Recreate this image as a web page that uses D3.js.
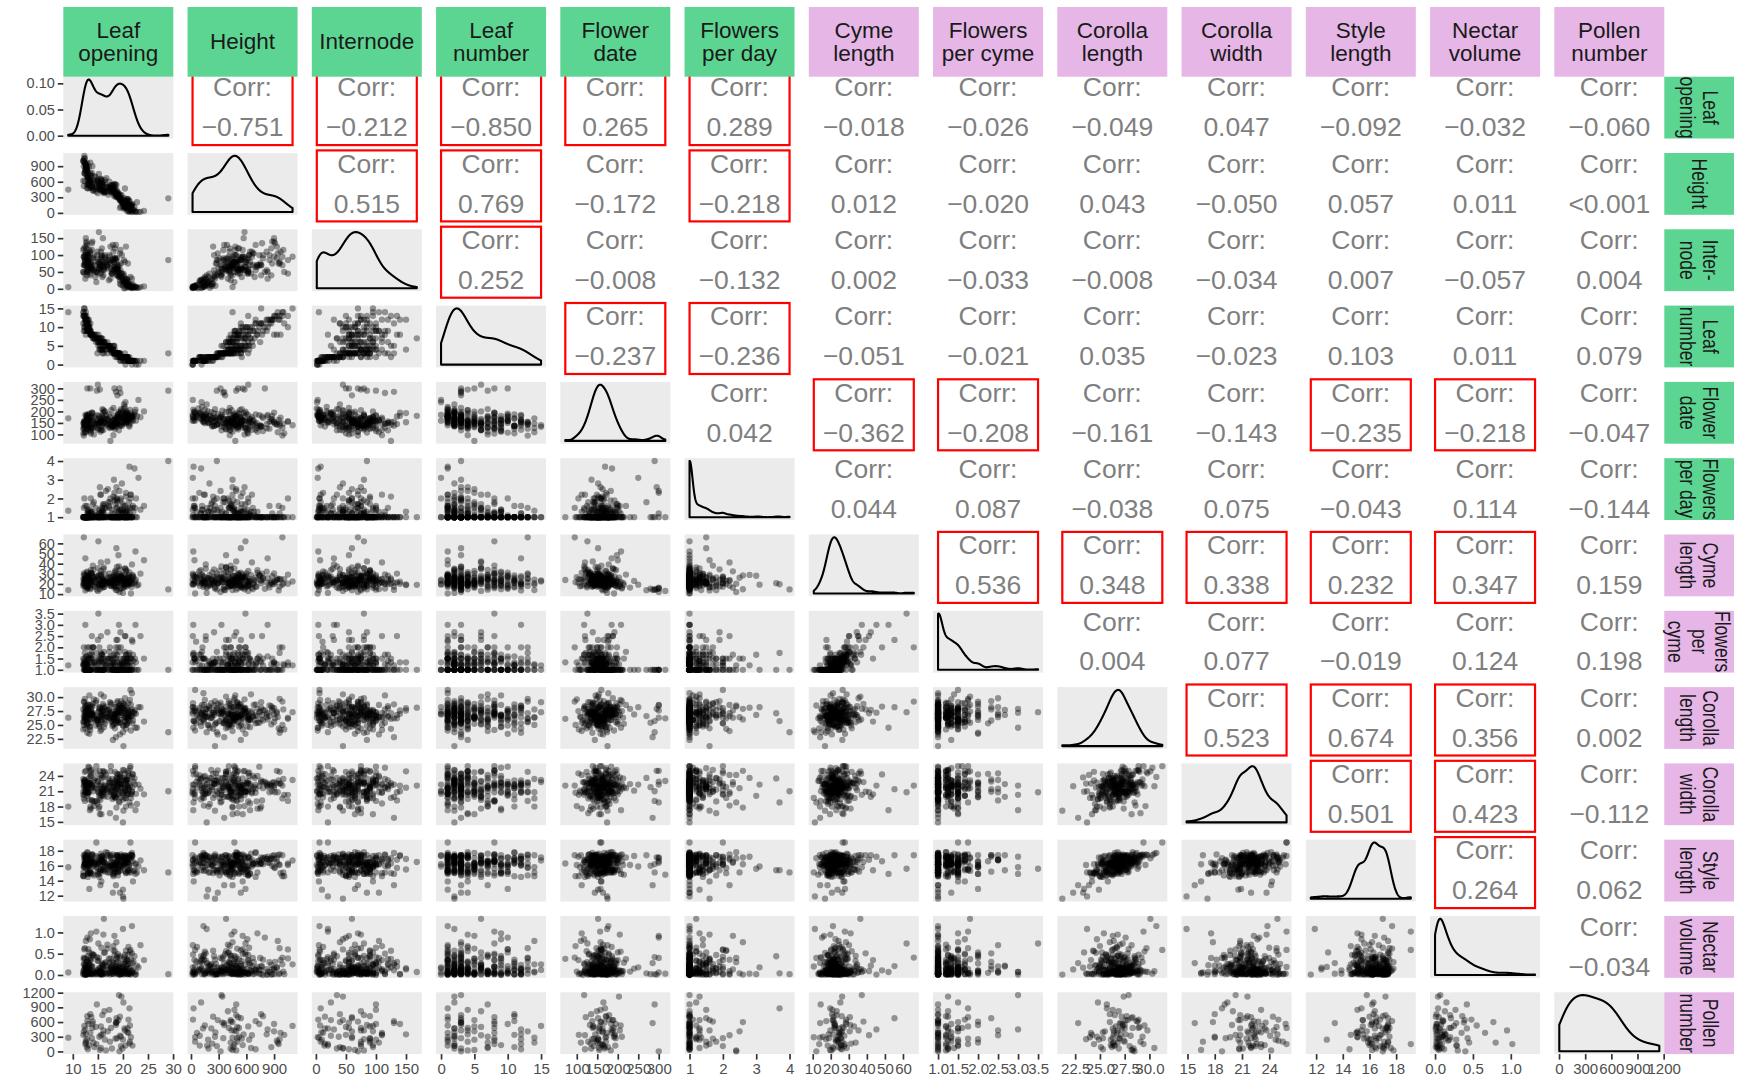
<!DOCTYPE html>
<html>
<head>
<meta charset="utf-8">
<script src="https://cdn.jsdelivr.net/npm/d3@7"></script>
<style>
  body { margin: 0; background: #ffffff; }
  svg { display: block; }
  text { font-family: "Liberation Sans", Arial, Helvetica, sans-serif; }
</style>
</head>
<body>
<svg id="chart" width="1743" height="1083"></svg>
<script>
// ---- Trait measurements, one entry per plant (null = not measured) ----
const leafOpening = [
  12.3, 12.1, 13.2, 12.6, 12.9, 9.1, 13.5, 12.2, 12.8, 13.0,
  12.5, 13.8, 12.1, 13.1, 12.7, 14.0, 12.4, 13.3, 12.9, 12.2,
  13.6, 12.8, 13.0, 14.2, 12.5, 13.4, 12.3, 13.7, 14.5, 12.9,
  13.2, 15.8, 12.7, 13.9, 16.2, 12.4, 13.5, 17.1, 12.8, 14.8,
  13.1, 18.2, 12.6, 15.5, 13.8, 14.6, 16.4, 15.1, 15.4, 14.9,
  15.7, 17.2, 14.4, 16.1, 15.3, 17.5, 15.0, 14.7, 17.8, 15.9,
  16.3, 18.4, 15.2, 17.0, 16.9, 18.1, 15.6, 17.4, 16.0, 18.6,
  17.3, 15.5, 18.8, 17.7, 16.7, 19.2, 17.9, 18.3, 17.6, 14.9,
  18.0, 17.4, 18.5, 19.0, 16.0, 18.2, 19.4, 18.7, 17.5, 18.9,
  19.6, 18.1, 15.7, 18.6, 20.1, 18.4, 19.3, 16.4, 18.8, 20.4,
  18.3, 19.8, 15.9, 20.6, 19.1, 18.5, 21.0, 19.5, 18.7, 20.2,
  19.0, 21.3, 18.9, 20.8, 19.7, 20.0, 21.5, 19.4, 20.9, 21.8,
  29.05, 20.3, 19.6, 19.9, 21.2, 20.7, 19.4, 21.5, 20.5, 20.0,
  21.7, 20.4, 20.9, 22.3, 21.0, 21.4, 20.6, 22.8, 21.9, 20.8,
  22.1, 21.3, 20.5, 23.5, 21.6, 22.6, 20.2, 21.1, 24.2, 21.8,
  12.6, 13.1, 12.2, 13.7, 12.9, 12.4, 13.4, 12.7, 14.1, 12.3,
  13.0, 12.5, 13.9, 12.8, 13.3, 12.1, 14.3, 13.6, 12.6, 13.2,
  12.9, 14.6, 13.5, 12.4, 13.8, 15.0, 12.7, 14.2, 13.1, 15.3,
  12.4, 13.0, 12.2, 13.6, 12.8, 13.3, 12.5, 14.0, 12.9, 13.5,
  17.3, 15.2, 16.0, 17.6, 15.6, 16.9, 18.0, 16.3, 17.8, 15.9,
  15.1, 18.3, 15.6, 17.9, 16.2, 15.4, 16.4, 18.9, 15.8, 16.9,
  19.1, 15.3, 18.5, 19.4, 16.1, 15.7, 19.7, 18.8, 16.6, 19.0,
  18.4, 20.0, 18.7, 19.3, 20.3, 18.1, 19.6, 20.6, 19.2, 18.9,
  20.1, 21.0, 19.8, 20.7, 21.4, 20.4, 19.5, 21.8, 20.9, 20.2,
  21.2, 22.0, 20.5, 21.6, 22.5, 20.8, 21.1, 23.1, 21.9, 22.4
];
const plantHeight = [
  1100, 620, 880, 940, 540, 450, 760, 990, 480, 700,
  850, 560, 1010, 660, 910, 430, 780, 600, 960, 520,
  720, 870, 470, 580, 830, 640, 1050, 510, 690, 800,
  560, 420, 740, 900, 380, 610, 970, 350, 820, 490,
  680, 330, 930, 450, 770, 500, 410, 590, 450, 640,
  510, 430, 710, 430, 520, 400, 620, 470, 470, 550,
  400, 380, 580, 490, 490, 420, 650, 530, 440, 360,
  600, 460, 350, 530, 670, 330, 440, 560, 410, 620,
  390, 500, 310, 370, 570, 450, 290, 540, 480, 340,
  280, 420, 630, 360, 260, 510, 320, 400, 300, 470,
  430, 250, 490, 240, 380, 550, 270, 350, 450, 290,
  330, 230, 410, 260, 340, 170, 150, 95, 210, 160,
  280, 130, 125, 190, 230, 105, 240, 45, 160, 185,
  135, 120, 265, 110, 140, 150, 90, 205, 175, 40,
  60, 28, 115, 20, 45, 18, 80, 22, 38, 17,
  820, 560, 990, 480, 700, 1050, 610, 880, 430, 760,
  640, 930, 520, 850, 590, 1000, 460, 720, 900, 540,
  780, 410, 670, 960, 500, 380, 870, 620, 740, 450,
  760, 540, 900, 620, 830, 480, 950, 590, 700, 510,
  470, 750, 540, 440, 660, 500, 540, 590, 430, 580,
  550, 460, 620, 510, 400, 580, 630, 320, 470, 400,
  290, 520, 360, 250, 440, 560, 230, 380, 490, 310,
  420, 220, 340, 280, 200, 540, 260, 190, 330, 370,
  110, 160, 200, 180, 45, 140, 250, 135, 220, 170,
  150, 30, 95, 140, 25, 120, 65, 20, 55, 35
];
const internode = [
  95, 50, 75, 105, 65, 5, 40, 70, 100, 55,
  85, 115, 50, 95, 135, 70, 100, 55, 80, 120,
  65, 40, 80, 55, 30, 70, 45, 60, 35, 50,
  95, 120, 70, 140, 60, 85, 110, 85, 55, 100,
  105, 60, 90, 70, 135, 50, 95, 80, 65, 110,
  55, 25, 70, 40, 60, 30, 45, 20, 50, 35,
  75, 90, 168, 60, 85, 110, 45, 95, 70, 130,
  80, 60, 90, 45, 70, 35, 85, 55, 75, 50,
  130, 75, 90, 65, 150, 80, 105, 60, 125, 70,
  75, 55, 100, 85, 45, 120, 70, 90, 60, 80,
  65, 100, 80, 125, 55, 90, 75, 115, 40, 85,
  40, 15, 55, 30, 45, 20, 35, 25, 10, 30,
  85, 20, 12, 35, 8, 25, 15, 6, 28, 10,
  5, 18, 9, 4, 22, 7, 12, 3, 14, 6,
  4, 8, 2, 5, 3, 6, 1.5, 4, 7, 2,
  110, 60, 95, 75, 130, 85, 45, 140, 90, 70,
  80, 125, 55, 100, 65, 115, 95, 70, 150, 85,
  90, 50, 105, 75, 60, 80, 120, 55, 100, 65,
  70, 85, 95, 60, 50, 115, 75, 90, 65, 80,
  100, 75, 55, 60, 110, 70, 85, 65, 45, 95,
  60, 80, 90, 45, 55, 75, 100, 40, 70, 65,
  45, 85, 60, 35, 75, 95, 30, 70, 80, 50,
  65, 28, 55, 40, 22, 90, 38, 20, 50, 60,
  25, 12, 45, 18, 8, 30, 55, 6, 15, 40,
  10, 5, 20, 8, 4, 28, 12, 3, 11, 6
];
const leafNumber = [
  15, 13, 12, 14, 10, 14, 11, 13, 9, 12,
  12, 8, 11, 10, 13, 8, 9, 10, 12, 9,
  8, 11, 9, 7, 12, 9, 10, 8, 7, 10,
  9, 6, 11, 8, 6, 10, 8, 5, 9, 7,
  9, 5, 8, 7, 8, 6, 6, 8, 5, 7,
  7, 5, 8, 6, 7, 4, 6, 8, 4, 7,
  6, 4, 7, 5, 6, 4, 7, 5, 6, 3,
  5, 6, 3, 4, 5, 3, 4, 5, 4, 3,
  5, 4, 3, 3, 4, 3, 3, 3, 5, 3,
  2, 3, 4, 3, 2, 3, 3, 4, 2, 3,
  3, 2, 3, 2, 3, 2, 2, 3, 3, 2,
  2, 2, 3, 2, 2, 2, 1, 2, 2, 1,
  3, 2, 1, 2, 1, 2, 1, 1, 2, 1,
  1, 1, 2, 1, 1, 1, 2, 1, 1, 1,
  1, 1, 0, 1, 1, 0, 1, 1, 1, 0,
  12, 10, 14, 8, 11, 13, 9, 12, 7, 15,
  10, 13, 8, 11, 10, 14, 7, 9, 12, 11,
  11, 7, 9, 13, 8, 6, 12, 8, 10, 6,
  11, 9, 13, 8, 10, 9, 12, 7, 11, 8,
  4, 6, 5, 4, 6, 5, 4, 5, 3, 6,
  5, 3, 5, 4, 3, 4, 5, 3, 4, 3,
  3, 4, 3, 2, 4, 4, 2, 3, 4, 3,
  3, 2, 3, 2, 2, 3, 2, 2, 3, 3,
  2, 1, 2, 2, 1, 2, 2, 1, 2, 2,
  1, 1, 2, 1, 1, 2, 1, 0, 1, 1
];
const flowerDate = [
  140, 125, 165, 110, 150, 170, 135, 95, 180, 120,
  155, 130, 105, 175, 145, 160, 115, 190, 138, 150,
  128, 168, 142, 100, 185, 133, 158, 122, 147, 300,
  162, 118, 137, 195, 152, 108, 173, 145, 127, 290,
  160, 135, 148, 112, 178, 141, 200, 126, 155, 166,
  132, 187, 150, 119, 172, 144, 316, 157, 136, 210,
  149, 124, 181, 163, 139, 97, 154, 176, 146, 285,
  131, 167, 152, 205, 143, 118, 161, 300, 139, 184,
  156, 128, 171, 148, 193, 136, 164, 152, 72, 177,
  141, 215, 159, 132, 175, 150, 300, 168, 145, 188,
  162, 137, 179, 153, 198, 142, 170, 280, 158, 146,
  185, 134, 166, 157, 203, 174, 149, 192, 161, 178,
  290, 155, 183, 168, 140, 196, 172, 160, 188, 152,
  176, 220, 163, 186, 154, 207, 171, 180, 165, 194,
  182, 169, 240, 175, 191, 160, 213, 178, 200, 185,
  145, 160, 128, 172, 138, 155, 118, 181, 150, 133,
  166, 142, 190, 125, 158, 147, 176, 112, 153, 139,
  171, 130, 162, 148, 195, 121, 157, 143, 184, 152,
  136, 169, 154, 104, 178, 146, 163, 129, 187, 300,
  158, 140, 174, 151, 120, 167, 144, 199, 135, 161,
  148, 182, 156, 131, 170, 295, 153, 177, 141, 164,
  189, 150, 166, 137, 205, 159, 172, 146, 183, 160,
  154, 197, 168, 143, 180, 162, 210, 149, 175, 270,
  165, 186, 152, 201, 171, 158, 192, 177, 163, 230,
  179, 160, 194, 173, 208, 168, 185, 250, 176, 198
];
const flowersPerDay = [
  1, 1, 1.2, 1, 1, 1.35, 1, 1.5, 1, 1,
  1, 1.3, 1, 1, 1, 1.7, 1, 1, 1.2, 1,
  1, 1, 1.4, 1, 1, 1, 2, 1, 1.1, 1,
  1, 1.5, 1, 1, 1.2, 1, 1, 1.8, 1, 1,
  1.3, 1, 1, 2.2, 1, 1, 1.5, 1, 1, 1.1,
  1, 1.6, 1, 1, 1.2, 2.0, 1, 1, 1.4, 1,
  1, 1.2, 1, 2.5, 1, 1, 1.3, 1, 1.7, 1,
  1.1, 1, 2.0, 1, 1.5, 1, 1, 2.3, 1, 1.2,
  1, 1.8, 1, 1, 1.3, 3.0, 1, 1.5, 1, 1,
  2.0, 1, 1.2, 1, 1.6, 1, 2.4, 1, 1, 1.3,
  1, 1.4, 1, 2.1, 1, 1.7, 1, 1, 2.6, 1,
  1.2, 1, 1.9, 1, 1.3, 1, 2.2, 1, 1.5, 1,
  4.0, 1, 1.4, 1, 1.8, 1.2, 1, 2.0, 1, 1.3,
  1, 1.6, 1, 3.6, 1, 1.2, 2.3, 1, 1.5, 1,
  1.3, 3.7, 1, 1.4, 1, 2.0, 1, 1.1, 1.6, 1,
  1, 1, 1, 1.2, 1, 1, 1.4, 1, 1, 1,
  1.1, 1, 1, 1.6, 1, 1, 1, 1.3, 1, 1,
  1, 1.5, 1, 1, 1.2, 1, 1, 1.8, 1, 1.4,
  1, 1.3, 1, 2.0, 1, 1.1, 1.6, 1, 1, 1.2,
  1.5, 1, 1.3, 1, 2.2, 1, 1, 1.7, 1, 1.4,
  1, 1.9, 1, 1.2, 1, 2.6, 1, 1.5, 1.1, 1,
  1.3, 1, 2.0, 1, 1.6, 1, 1.2, 1, 2.4, 1,
  1, 1.7, 1, 1.4, 1, 2.1, 1, 1.3, 1, 1.8,
  1.2, 1, 2.8, 1, 1.5, 1, 1.9, 1, 1.3, 1,
  1, 1.6, 1, 2.2, 1, 1.4, 1, 3.1, 1, 1.5
];
const cymeLength = [
  22.4, 18.1, 27.6, 24.3, 31.2, 14.0, 20.7, 66.0, 23.5, 26.2,
  19.3, 29.4, 24.8, 16.2, 21.6, 38.1, 25.3, 22.9, 17.4, 28.3,
  33.5, 21.2, 18.6, 26.7, 45.3, 23.1, 20.2, 30.6, 24.1, 15.2,
  25.7, 19.8, 28.5, 22.3, 36.4, 17.7, 24.5, 21.9, 32.1, 14.4,
  20.5, 27.3, 23.8, 18.2, 30.2, 26.5, 22.1, 62.0, 19.6, 25.1,
  29.1, 21.4, 17.2, 34.6, 24.2, 20.9, 13.1, 27.8, 22.6, 16.5,
  23.3, 31.6, 19.1, 26.1, 42.2, 21.7, 28.8, 18.4, 24.6, 14.1,
  30.4, 22.2, 25.5, 17.9, 20.3, 37.2, 23.6, 16.3, 27.1, 19.5,
  21.1, 26.4, 33.2, 24.4, 18.8, 28.1, 20.6, 55.3, 23.9, 25.2,
  27.4, 19.2, 22.7, 30.8, 16.8, 24.7, 12.0, 29.6, 21.3, 35.4,
  18.3, 26.9, 23.2, 20.1, 48.4, 25.6, 22.5, 15.4, 28.4, 19.9,
  24.0, 31.3, 17.6, 21.8, 26.3, 11.2, 23.4, 27.5, 20.4, 39.3,
  14.6, 22.8, 28.2, 25.4, 19.4, 33.7, 21.5, 26.6, 35.0, 23.7,
  17.1, 29.3, 24.9, 20.8, 27.2, 22.0, 32.5, 18.5, 25.8, 21.0,
  26.8, 19.7, 23.0, 30.1, 10.6, 24.2, 21.1, 28.6, 43.4, 20.0,
  21.4, 26.8, 19.2, 24.1, 17.5, 29.3, 22.6, 20.1, 33.8, 23.4,
  18.9, 25.5, 22.0, 16.6, 27.9, 20.7, 24.4, 31.0, 19.6, 23.0,
  26.1, 21.8, 14.9, 24.9, 19.0, 35.7, 22.3, 18.2, 28.6, 20.4,
  23.7, 17.8, 30.5, 21.1, 25.8, 19.9, 13.6, 27.3, 22.8, 15.8,
  20.9, 28.1, 24.0, 18.5, 41.2, 22.1, 26.4, 17.0, 21.5, 25.0,
  19.4, 23.9, 32.9, 20.6, 16.9, 14.8, 22.7, 26.6, 18.7, 24.6,
  21.0, 29.7, 17.3, 23.5, 19.8, 27.0, 22.2, 36.8, 20.3, 25.7,
  18.0, 24.3, 21.7, 30.0, 19.5, 23.2, 15.6, 26.0, 22.4, 13.9,
  25.3, 20.5, 28.9, 17.6, 22.9, 19.1, 34.4, 21.2, 24.7, 16.4,
  20.8, 27.6, 18.3, 23.6, 52.0, 21.6, 25.9, 19.3, 29.0, 22.5
];
const flowersPerCyme = [
  1.2, 1.5, 1.5, 1, 1.25, 1.2, 1, 2.0, 1.33, 1.25,
  1, 1.67, 1.2, 1, 1, 2.0, 1.5, 1, 2.0, 1.4,
  1.5, 1.25, 1, 1.33, 3.0, 1, 1.2, 1.75, 1, 1,
  1.5, 1.67, 1.6, 1.33, 1.8, 1, 1, 1.5, 1, 1,
  1, 1.33, 1.25, 1, 2.5, 1.2, 1, 3.5, 1, 1.5,
  1.67, 1, 1.33, 1.33, 1.33, 1.2, 1, 1.75, 1, 1,
  1.25, 1, 1, 1.5, 2.67, 1, 1.4, 2.0, 1.5, 1,
  1.8, 1, 1.33, 1, 1.25, 3.0, 1, 1, 1.6, 1,
  1.2, 1.5, 1.5, 1, 1, 1.67, 1, 2.33, 1.33, 1,
  1.5, 1.5, 1.25, 2.0, 1, 1.2, 1, 1.4, 1, 2.5,
  1.25, 1.33, 1, 1.5, 2.0, 1.75, 1, 1, 1.5, 1.2,
  1, 1.2, 2.33, 1.33, 1.25, 1, 1.5, 1.2, 1, 2.33,
  1, 1.5, 2.0, 1, 1, 1.67, 1.25, 1.5, 2.5, 1,
  1.5, 1.8, 1.33, 1, 1.5, 1, 1.67, 1, 1.2, 1.5,
  1.4, 1.75, 1, 2.5, 1, 1.33, 1, 1.67, 1.5, 1,
  1, 1.5, 1, 1.25, 1, 1.33, 1.67, 1, 2.0, 1,
  1, 1, 1.5, 1, 2.0, 1.25, 1, 1.5, 1.33, 1,
  1.2, 1, 1, 1.75, 1, 2.33, 1, 1.25, 1, 1.5,
  1.33, 1, 1.25, 1, 1.6, 1, 1, 2.0, 1.2, 1,
  1, 1.4, 1, 1.5, 2.5, 1, 1.33, 1, 1.25, 1.67,
  1.25, 1, 1.75, 1, 1, 1, 1.5, 1, 1, 1.2,
  1, 2.0, 1, 1.33, 1, 1.5, 1, 1.67, 1.2, 1,
  1, 1.25, 1, 1.8, 1.33, 1, 1, 1.4, 1, 1,
  1.5, 1, 1.2, 1, 1.33, 1, 2.67, 1, 1.25, 1,
  1, 1.67, 1, 1, 3.0, 1.2, 1, 1, 2.25, 1.5
];
const corollaLength = [
  27.3, 25.6, 28.1, 26.4, 24.9, 26.3, 26.0, 29.2, 26.7, 25.3,
  28.5, 26.9, 24.2, 27.5, 26.2, 28.8, 25.8, 27.1, 23.6, 26.6,
  27.9, 25.1, 26.8, 29.6, 27.2, 24.6, 26.3, 28.3, 25.9, 27.6,
  26.1, 28.0, 25.4, 27.0, 30.1, 26.5, 24.1, 27.7, 26.9, 25.7,
  28.6, 26.3, 27.4, 23.9, 26.8, 29.0, 25.2, 27.3, 28.2, 26.0,
  25.5, 27.8, 26.6, 28.4, 24.7, 27.1, 26.2, 29.4, 25.8, 27.5,
  26.9, 24.4, 28.1, 26.4, 27.7, 25.0, 30.5, 26.7, 27.2, 22.8,
  27.4, 26.0, 25.3, 28.7, 26.5, 27.9, 24.8, 26.3, 28.9, 25.9,
  26.2, 29.1, 27.0, 25.6, 27.6, 26.8, 23.3, 28.2, 26.1, 27.3,
  28.0, 25.2, 26.7, 27.5, 21.2, 26.4, 28.5, 25.7, 27.1, 29.8,
  25.8, 27.2, 26.5, 24.3, 28.3, 26.9, 27.7, 25.4, 26.0, 28.8,
  27.0, 26.3, 29.3, 25.1, 27.4, 23.7, 26.6, 28.1, 26.2, 27.8,
  23.7, 27.5, 25.9, 28.4, 26.8, 25.5, 27.2, 31.3, 26.4, 24.9,
  26.7, 28.6, 25.3, 27.1, 26.0, 29.5, 27.6, 24.5, 26.5, 28.0,
  27.3, 25.7, 26.9, 28.2, 24.0, 27.0, 26.3, 28.9, 25.6, 27.4,
  26.4, 27.9, 25.0, 27.2, 28.7, 26.1, 24.7, 27.6, 26.8, 29.1,
  25.9, 27.1, 28.3, 26.6, 23.4, 27.8, 26.2, 25.4, 28.0, 26.9,
  27.7, 24.9, 26.5, 29.7, 27.0, 25.8, 28.4, 26.3, 27.3, 25.1,
  28.1, 26.7, 25.5, 27.5, 26.0, 30.3, 24.4, 27.2, 26.8, 28.6,
  26.3, 27.4, 28.8, 25.6, 27.1, 26.5, 22.3, 28.0, 26.9, 27.7,
  25.2, 28.2, 26.6, 27.3, 24.6, 27.9, 26.1, 29.0, 25.9, 27.0,
  27.6, 26.4, 25.3, 28.5, 26.8, 24.2, 27.2, 26.0, 28.3, 25.7,
  26.9, 28.9, 27.1, 25.4, 27.8, 26.2, 29.3, 25.0, 27.4, 26.6,
  24.8, 27.0, 28.1, 26.5, 27.5, 25.6, 26.8, 30.7, 26.3, 27.9,
  27.2, 25.8, 26.4, 28.6, 24.5, 27.1, 26.7, 28.2, 25.3, 27.6
];
const corollaWidth = [
  23.2, 20.9, 22.7, 20.8, 20.1, 18.0, 18.0, 22.1, 22.2, 20.7,
  20.8, 21.6, 20.3, 20.6, 20.8, 22.8, 22.8, 22.4, 22.5, 21.9,
  24.0, 22.0, 20.9, 18.1, 22.1, 17.3, 20.3, 22.0, 23.6, 22.9,
  23.5, 21.4, 22.0, 22.1, 24.9, 21.1, 22.5, 23.5, 22.6, 19.1,
  21.8, 20.3, 25.0, 24.2, 19.2, 24.8, 22.0, 20.8, 16.5, 18.6,
  20.1, 20.8, 19.0, 21.2, 18.0, 24.9, 23.0, 25.9, 22.7, 21.5,
  20.0, 24.8, 22.1, 21.6, 19.9, 20.7, 22.0, 22.6, 20.9, 15.8,
  22.7, 19.3, 22.0, 21.0, 21.4, 20.3, 19.5, 22.3, 25.9, 21.4,
  19.9, 16.7, 19.7, 22.4, 24.9, 20.1, 23.7, 21.4, 22.1, 22.4,
  22.5, 21.8, 24.0, 19.9, 17.2, 23.1, 18.8, 22.3, 22.8, 24.5,
  20.2, 23.1, 20.8, 19.7, 24.3, 21.5, 24.5, 21.8, 17.8, 25.1,
  21.0, 22.6, 23.3, 20.3, 21.6, 14.9, 20.5, 24.1, 21.9, 20.9,
  21.0, 20.8, 19.8, 20.7, 21.3, 23.3, 24.4, 25.9, 23.2, 20.6,
  20.4, 21.6, 23.1, 23.5, 21.5, 22.0, 22.8, 18.5, 21.8, 20.7,
  22.9, 18.8, 21.1, 21.5, 19.7, 20.5, 23.5, 25.0, 20.4, 20.9,
  22.3, 22.2, 19.6, 25.2, 22.3, 19.1, 22.7, 21.0, 21.7, 22.8,
  22.4, 22.6, 22.2, 22.4, 20.9, 23.4, 23.1, 17.6, 21.7, 19.4,
  21.6, 21.8, 24.0, 24.8, 19.2, 22.9, 22.2, 19.0, 25.8, 19.7,
  23.1, 20.7, 22.8, 24.5, 21.9, 25.6, 23.1, 21.0, 21.5, 25.0,
  23.1, 17.6, 20.4, 20.8, 20.8, 21.1, 22.0, 21.0, 21.1, 20.2,
  20.8, 22.7, 22.5, 23.4, 21.7, 25.0, 24.7, 22.7, 23.6, 22.0,
  20.6, 20.3, 21.2, 22.5, 23.7, 16.5, 21.8, 24.4, 24.2, 21.4,
  19.8, 25.2, 23.6, 23.1, 21.0, 21.8, 22.4, 18.0, 19.0, 23.6,
  19.4, 20.5, 23.6, 23.1, 25.5, 19.7, 22.4, 23.8, 23.5, 22.4,
  24.0, 24.3, 22.2, 18.2, 17.3, 22.2, 21.7, 22.3, 24.4, 22.3
];
const styleLength = [
  16.7, 14.7, 16.0, 17.4, 17.1, 15.8, 16.3, 17.4, 17.0, 14.5,
  16.4, 17.5, 14.6, 15.9, 15.7, 16.5, 16.2, 15.2, 16.1, 15.9,
  16.6, 17.0, 14.9, 16.1, 17.2, 15.0, 16.1, 16.5, 16.4, 17.1,
  16.0, 16.7, 16.7, 17.4, 17.0, 15.8, 15.0, 15.9, 16.9, 16.2,
  16.2, 15.4, 16.5, 13.4, 16.8, 17.3, 16.3, 15.6, 16.2, 16.6,
  16.7, 15.5, 16.2, 16.5, 15.1, 17.1, 14.8, 19.1, 16.1, 16.6,
  16.4, 15.1, 16.5, 15.1, 17.4, 14.6, 17.6, 15.8, 16.2, 13.4,
  15.9, 15.4, 16.5, 17.0, 16.3, 15.8, 16.1, 16.4, 17.3, 17.1,
  14.9, 17.4, 15.5, 15.2, 15.5, 15.6, 12.4, 17.4, 16.3, 17.2,
  16.8, 14.8, 17.0, 16.1, 11.6, 16.1, 17.0, 15.2, 17.2, 17.4,
  15.1, 17.3, 17.2, 15.0, 16.6, 15.6, 15.4, 16.0, 16.2, 16.4,
  15.1, 16.1, 17.2, 16.4, 17.2, 11.9, 17.0, 16.4, 16.5, 17.4,
  15.1, 16.4, 15.8, 17.1, 16.2, 17.3, 16.0, 19.1, 16.8, 12.8,
  17.1, 17.1, 17.2, 15.4, 16.4, 17.4, 16.5, 15.1, 17.3, 16.9,
  15.3, 15.4, 17.3, 16.7, 15.1, 16.2, 16.1, 16.8, 15.4, 17.4,
  16.9, 15.2, 14.6, 16.7, 17.7, 16.3, 15.4, 17.3, 15.9, 17.1,
  14.9, 17.0, 17.5, 16.8, 12.9, 15.1, 16.4, 15.1, 16.9, 16.5,
  17.0, 15.8, 16.2, 17.5, 16.7, 15.2, 16.9, 14.7, 16.2, 14.5,
  16.3, 15.1, 15.8, 17.2, 16.4, 17.4, 16.2, 14.9, 17.8, 16.6,
  15.1, 16.4, 15.6, 15.9, 16.8, 17.7, 12.4, 17.0, 16.5, 17.3,
  16.3, 16.4, 15.5, 17.5, 15.4, 17.1, 16.0, 16.6, 17.3, 16.0,
  15.5, 14.9, 16.2, 17.0, 15.4, 13.9, 16.7, 17.4, 17.8, 14.7,
  16.0, 15.9, 16.5, 15.3, 16.2, 15.7, 17.5, 15.1, 16.2, 17.4,
  16.3, 15.4, 17.2, 16.8, 17.1, 15.3, 15.4, 17.7, 17.0, 16.1,
  15.8, 13.9, 17.1, 17.5, 14.9, 17.0, 15.1, 15.9, 16.6, 16.3
];
const nectarVolume = [
  0.25, 0.03, 0.13, 0.80, 0.09, 0.06, 0.02, 0.41, 0.16, 0.12,
  0.07, 0.50, 0.02, 0.21, 0.31, 0.10, 0.00, 0.14, 0.04, 0.37,
  0.19, 0.01, 0.45, 0.08, 0.01, 0.23, 0.60, 0.05, 0.03, 0.88,
  0.06, 0.27, 0.12, 0.02, 1.32, 0.04, 0.35, 0.15, 0.01, 0.42,
  0.30, 0.08, 0.17, 0.03, 0.20, 0.01, 0.53, 0.74, 0.05, 0.11,
  0.02, 0.39, 0.06, 0.25, 0.10, 0.14, 0.03, 1.02, 0.32, 0.02,
  0.13, 0.56, 0.07, 0.04, 0.22, 0.68, 0.09, 0.01, 0.18, 0.28,
  0.05, 0.16, 0.43, 0.11, 0.02, 0.07, 0.03, 0.92, 0.19, 0.34,
  0.24, 0.06, 0.09, 0.49, 0.13, 0.02, 0.17, 0.21, 0.38, 0.10,
  0.03, 0.29, 0.64, 0.08, 0.01, 0.15, 0.40, 0.04, 0.12, 0.07,
  0.46, 0.05, 0.20, 0.57, 0.11, 0.14, 0.26, 0.02, 0.77, 0.03,
  0.18, 0.09, 0.31, 0.36, 0.04, 1.08, 0.01, 0.12, 0.23, 0.51,
  0.02, 0.42, 0.27, 0.06, 0.16, 0.33, 0.01, 0.59, 0.05, 0.19,
  0.10, 0.37, 0.02, 0.44, 0.03, 0.55, 0.13, 0.22, 0.28, 0.07,
  0.32, 0.04, 0.15, 0.70, 0.20, 0.01, 0.09, 0.48, 0.35, 0.06,
  0.14, 0.61, 0.25, 0.03, 0.11, 0.39, 0.84, 0.02, 0.45, 0.12,
  0.05, 0.18, 0.21, 0.30, 0.53, 0.08, 0.04, 0.98, 0.16, 0.26,
  0.36, 0.07, 0.40, 0.63, 0.02, 0.13, 0.24, 0.47, 0.03, 0.17,
  0.21, 0.04, 0.12, 0.35, 0.08, 0.03, 0.02, 0.48, 0.15, 0.06,
  0.27, 0.40, 0.01, 0.18, 0.09, 0.62, 0.13, 0.05, 0.03, 0.24,
  0.33, 0.07, 0.02, 0.16, 0.52, 0.01, 0.28, 0.11, 0.04, 0.71,
  0.10, 0.06, 0.19, 0.44, 0.95, 0.03, 0.08, 0.14, 0.30, 0.02,
  0.05, 0.26, 0.38, 0.01, 0.12, 0.58, 0.09, 0.22, 0.17, 0.04,
  0.15, 0.34, 0.03, 0.10, 0.02, 0.47, 0.20, 1.15, 0.06, 0.08,
  0.04, 0.11, 0.29, 0.36, 0.07, 0.02, 0.66, 0.18, 0.05, 0.01
];
const pollenNumber = [
  520, null, null, 180, null, 280, 760, null, null, 45,
  null, null, 340, null, null, 610, null, null, 250, null,
  null, 90, null, null, 450, null, null, 700, null, null,
  130, null, null, 560, null, null, 380, null, null, 960,
  null, null, 220, null, null, 500, null, null, 30, null,
  null, 640, null, null, 300, null, null, 150, null, null,
  820, null, null, 410, null, null, 70, null, null, 580,
  null, null, 270, null, null, 1150, null, null, 480, null,
  null, 200, null, null, 350, null, null, 680, null, null,
  110, null, null, 540, null, null, 3, null, null, 430,
  null, null, 740, null, null, 260, null, null, 600, null,
  null, 160, null, null, 1120, null, null, 320, null, null,
  null, 470, null, 60, null, null, 710, null, null, 240,
  null, null, 390, null, null, 530, null, null, 120, null,
  null, 880, null, null, 290, null, null, 650, null, null,
  350, null, null, null, 620, null, null, null, 180, null,
  null, null, 480, null, null, null, 90, null, null, null,
  720, null, null, null, 270, null, null, null, 560, null,
  null, null, 410, null, null, null, 150, null, null, null,
  850, null, null, null, 330, null, null, null, 60, null,
  null, null, 510, null, null, null, 240, null, null, null,
  640, null, null, null, 430, null, null, null, 20, null,
  null, null, 590, null, null, null, 300, null, null, null,
  1000, null, null, null, 200, null, null, null, 470, null,
  null, null, 120, null, null, null, 380, null, null, null
];

// ---- Labels, ticks and correlation annotations ----
const headerLabels = [
  ["Leaf", "opening"], ["Height"], ["Internode"], ["Leaf", "number"],
  ["Flower", "date"], ["Flowers", "per day"], ["Cyme", "length"],
  ["Flowers", "per cyme"], ["Corolla", "length"], ["Corolla", "width"],
  ["Style", "length"], ["Nectar", "volume"], ["Pollen", "number"]
];
const stripLabels = [
  ["Leaf", "opening"], ["Height"], ["Inter-", "node"], ["Leaf", "number"],
  ["Flower", "date"], ["Flowers", "per day"], ["Cyme", "length"],
  ["Flowers", "per", "cyme"], ["Corolla", "length"], ["Corolla", "width"],
  ["Style", "length"], ["Nectar", "volume"], ["Pollen", "number"]
];
const traitGroup = ["veg", "veg", "veg", "veg", "veg", "veg",
                    "flo", "flo", "flo", "flo", "flo", "flo", "flo"];
const axisTicks = [
  [10, 15, 20, 25, 30], [0, 300, 600, 900], [0, 50, 100, 150], [0, 5, 10, 15],
  [100, 150, 200, 250, 300], [1, 2, 3, 4], [10, 20, 30, 40, 50, 60],
  [1.0, 1.5, 2.0, 2.5, 3.0, 3.5], [22.5, 25.0, 27.5, 30.0], [15, 18, 21, 24],
  [12, 14, 16, 18], [0.0, 0.5, 1.0], [0, 300, 600, 900, 1200]
];
const tickDecimals = [0, 0, 0, 0, 0, 0, 0, 1, 1, 0, 0, 1, 0];
const densityTicks = [0, 0.05, 0.10];

// Pearson correlations, upper triangle, row by row
const corrUpper = [
  [-0.751, -0.212, -0.850, 0.265, 0.289, -0.018, -0.026, -0.049, 0.047, -0.092, -0.032, -0.060],
  [0.515, 0.769, -0.172, -0.218, 0.012, -0.020, 0.043, -0.050, 0.057, 0.011, 0.0004],
  [0.252, -0.008, -0.132, 0.002, -0.033, -0.008, -0.034, 0.007, -0.057, 0.004],
  [-0.237, -0.236, -0.051, -0.021, 0.035, -0.023, 0.103, 0.011, 0.079],
  [0.042, -0.362, -0.208, -0.161, -0.143, -0.235, -0.218, -0.047],
  [0.044, 0.087, -0.038, 0.075, -0.043, 0.114, -0.144],
  [0.536, 0.348, 0.338, 0.232, 0.347, 0.159],
  [0.004, 0.077, -0.019, 0.124, 0.198],
  [0.523, 0.674, 0.356, 0.002],
  [0.501, 0.423, -0.112],
  [0.264, 0.062],
  [-0.034]
];
// Cells (row, column) whose correlation is flagged with a red frame
const flaggedCells = [
  [0, 1], [0, 2], [0, 3], [0, 4], [0, 5], [1, 2], [1, 3], [1, 5], [2, 3],
  [3, 4], [3, 5], [4, 6], [4, 7], [4, 10], [4, 11],
  [6, 7], [6, 8], [6, 9], [6, 10], [6, 11],
  [8, 9], [8, 10], [8, 11], [9, 10], [9, 11], [10, 11]
];

// ---- Layout ----
const panelLeft = 63.3, panelTop = 76.7;
const panelW = 110, panelH = 61.8, gapX = 14.25, gapY = 14.5;
const headerTop = 7, stripW = 69.7;
const groupFill = { veg: "#5DD592", flo: "#E5B6E6" };
const labelFont = 22.5, labelLine = 23.4;

const traits = [leafOpening, plantHeight, internode, leafNumber, flowerDate, flowersPerDay,
                cymeLength, flowersPerCyme, corollaLength, corollaWidth, styleLength,
                nectarVolume, pollenNumber];
const nVar = traits.length;
const nObs = leafOpening.length;
const present = v => v !== null && v !== undefined;
const colX = c => panelLeft + c * (panelW + gapX);
const rowY = r => panelTop + r * (panelH + gapY);
const padRange = ([a, b]) => { const d = (b - a) * 0.05; return [a - d, b + d]; };

const svg = d3.select("#chart");
svg.append("rect").attr("width", 1743).attr("height", 1083).attr("fill", "#ffffff");

const xScale = traits.map(v => d3.scaleLinear()
  .domain(padRange(d3.extent(v.filter(present)))).range([0, panelW]));
const yScale = traits.map(v => d3.scaleLinear()
  .domain(padRange(d3.extent(v.filter(present)))).range([panelH, 0]));

// Gaussian kernel density over the data range (Silverman's rule-of-thumb bandwidth)
function kernelDensity(values) {
  const s = values.slice().sort(d3.ascending);
  const n = s.length;
  const sd = d3.deviation(s);
  const iqr = d3.quantileSorted(s, 0.75) - d3.quantileSorted(s, 0.25);
  const spread = iqr > 0 ? Math.min(sd, iqr / 1.34) : sd;
  const bw = 0.9 * spread * Math.pow(n, -0.2);
  const lo = s[0], hi = s[n - 1];
  const norm = 1 / (n * bw * Math.sqrt(2 * Math.PI));
  return d3.range(512).map(i => {
    const x = lo + (hi - lo) * i / 511;
    return [x, norm * d3.sum(s, v => Math.exp(-0.5 * ((x - v) / bw) ** 2))];
  });
}
const densities = traits.map(v => kernelDensity(v.filter(present)));
const densityY = densities.map(d => d3.scaleLinear()
  .domain(padRange([0, d3.max(d, p => p[1])])).range([panelH, 0]));

const corrFormat = v => Math.abs(v) < 0.001 ? "<0.001" : d3.format(".3f")(v);

// ---- Panels ----
for (let r = 0; r < nVar; r++) {
  for (let c = 0; c < nVar; c++) {
    const g = svg.append("g").attr("transform", `translate(${colX(c)},${rowY(r)})`);
    if (r > c) {
      g.append("rect").attr("width", panelW).attr("height", panelH).attr("fill", "#EBEBEB");
      const rows = d3.range(nObs).filter(i => present(traits[c][i]) && present(traits[r][i]));
      g.selectAll("circle").data(rows).join("circle")
        .attr("cx", i => xScale[c](traits[c][i]))
        .attr("cy", i => yScale[r](traits[r][i]))
        .attr("r", 3.15)
        .attr("fill", "#000000")
        .attr("fill-opacity", 0.38);
    } else if (r === c) {
      g.append("rect").attr("width", panelW).attr("height", panelH).attr("fill", "#EBEBEB");
      const d = densities[c];
      const outline = [[d[0][0], 0], ...d, [d[d.length - 1][0], 0]];
      const line = d3.line().x(p => xScale[c](p[0])).y(p => densityY[c](p[1]));
      g.append("path")
        .attr("d", line(outline) + "Z")
        .attr("fill", "none")
        .attr("stroke", "#000000")
        .attr("stroke-width", 2.1)
        .attr("stroke-linejoin", "round");
    } else {
      const v = corrUpper[r][c - r - 1];
      const t = g.append("g").attr("fill", "#7F7F7F").attr("font-size", 26.5)
        .attr("text-anchor", "middle");
      t.append("text").attr("x", panelW / 2).attr("y", panelH / 2 - 11.2).text("Corr:");
      t.append("text").attr("x", panelW / 2).attr("y", panelH / 2 + 28.8).text(corrFormat(v));
    }
  }
}

// Red frames around flagged correlations
svg.append("g").selectAll("rect").data(flaggedCells).join("rect")
  .attr("x", d => colX(d[1]) + panelW / 2 - 50)
  .attr("y", d => rowY(d[0]) + panelH / 2 - 33.5)
  .attr("width", 100)
  .attr("height", 71)
  .attr("fill", "none")
  .attr("stroke", "#FF0000")
  .attr("stroke-width", 2.2);

// ---- Column headers (top) ----
for (let c = 0; c < nVar; c++) {
  const g = svg.append("g").attr("transform", `translate(${colX(c)},${headerTop})`);
  const h = panelTop - headerTop;
  g.append("rect").attr("width", panelW).attr("height", h).attr("fill", groupFill[traitGroup[c]]);
  const lines = headerLabels[c];
  g.selectAll("text").data(lines).join("text")
    .attr("x", panelW / 2)
    .attr("y", (d, i) => h / 2 + 7.6 + (i - (lines.length - 1) / 2) * labelLine)
    .attr("text-anchor", "middle")
    .attr("font-size", labelFont)
    .attr("fill", "#1A1A1A")
    .text(d => d);
}

// ---- Row strips (right side, rotated, condensed along the text) ----
const stripX = colX(nVar - 1) + panelW;
for (let r = 0; r < nVar; r++) {
  svg.append("rect")
    .attr("x", stripX).attr("y", rowY(r))
    .attr("width", stripW).attr("height", panelH)
    .attr("fill", groupFill[traitGroup[r]]);
  const lines = stripLabels[r];
  const g = svg.append("g")
    .attr("transform",
      `translate(${stripX + stripW / 2},${rowY(r) + panelH / 2}) rotate(90) scale(0.78,1)`);
  g.selectAll("text").data(lines).join("text")
    .attr("x", 0)
    .attr("y", (d, i) => 7.6 + (i - (lines.length - 1) / 2) * labelLine)
    .attr("text-anchor", "middle")
    .attr("font-size", labelFont)
    .attr("fill", "#1A1A1A")
    .text(d => d);
}

// ---- Axes ----
function styleAxis(sel, fontSize) {
  sel.select(".domain").remove();
  sel.selectAll(".tick line").attr("stroke", "#333333").attr("stroke-width", 1.7);
  sel.selectAll(".tick text").attr("fill", "#4D4D4D").attr("font-size", fontSize)
    .attr("font-family", "'Liberation Sans', Arial, sans-serif");
}
const inDomain = (scale, ticks) => {
  const [a, b] = scale.domain();
  const lo = Math.min(a, b), hi = Math.max(a, b), eps = (hi - lo) * 0.002;
  return ticks.filter(t => t >= lo - eps && t <= hi + eps);
};

for (let r = 0; r < nVar; r++) {
  const scale = r === 0 ? densityY[0] : yScale[r];
  const ticks = r === 0 ? densityTicks : axisTicks[r];
  const fmt = r === 0 ? d3.format(".2f") : d3.format(`.${tickDecimals[r]}f`);
  const axis = d3.axisLeft(scale).tickValues(inDomain(scale, ticks))
    .tickSize(5.5).tickPadding(3).tickFormat(v => fmt(v));
  svg.append("g").attr("transform", `translate(${colX(0)},${rowY(r)})`)
    .call(axis).call(s => styleAxis(s, 14.5));
}
for (let c = 0; c < nVar; c++) {
  const scale = xScale[c];
  const fmt = d3.format(`.${tickDecimals[c]}f`);
  const axis = d3.axisBottom(scale).tickValues(inDomain(scale, axisTicks[c]))
    .tickSize(5.5).tickPadding(3.5).tickFormat(v => fmt(v));
  svg.append("g").attr("transform", `translate(${colX(c)},${rowY(nVar - 1) + panelH})`)
    .call(axis).call(s => styleAxis(s, 15));
}
</script>
</body>
</html>
